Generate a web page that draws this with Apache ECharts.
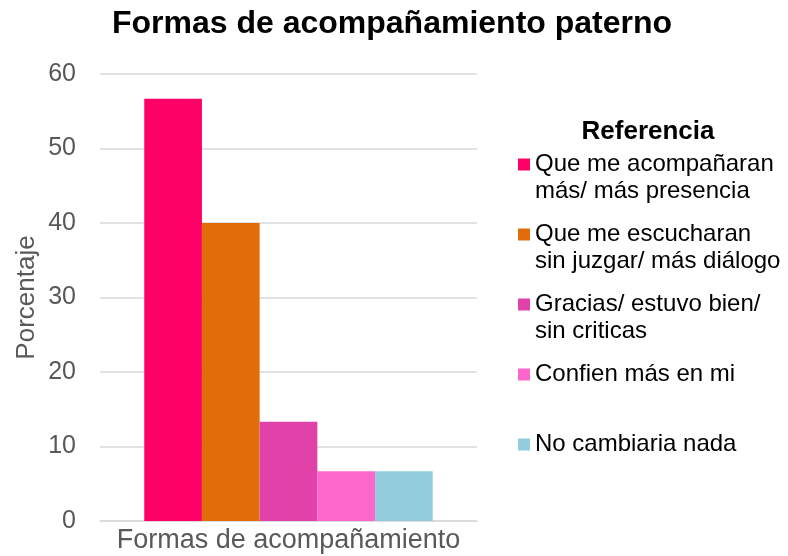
<!DOCTYPE html>
<html><head><meta charset="utf-8">
<script src="https://cdn.jsdelivr.net/npm/echarts@6/dist/echarts.min.js"></script>
<style>html,body{margin:0;padding:0;background:#fff}#c{width:788px;height:556px}</style>
</head><body><div id="c"></div>
<script>
const categories = ['Formas de acompañamiento'];
const seriesNames = ['Que me acompañaran\nmás/ más presencia','Que me escucharan\nsin juzgar/ más diálogo','Gracias/ estuvo bien/\nsin criticas','Confien más en mi','No cambiaria nada'];
const seriesValues = [56.67, 40, 13.33, 6.67, 6.67];
const colors = ['#FF0066','#E36C0A','#E042A9','#FF66CC','#93CDDD'];
const yTicks = [0, 10, 20, 30, 40, 50, 60];

const font = 'Arial, "Liberation Sans", sans-serif';
const chart = echarts.init(document.getElementById('c'));
chart.setOption({
  animation: false,
  title: [
    {text: 'Formas de acompañamiento paterno', left: 387, top: 3, textAlign: 'center',
     textStyle: {fontFamily: font, fontSize: 32, fontWeight: 'bold', color: '#000'}},
    {text: 'Referencia', left: 643, top: 114, textAlign: 'center',
     textStyle: {fontFamily: font, fontSize: 26, fontWeight: 'bold', color: '#000'}}
  ],
  grid: {left: 100, right: 311, top: 74, bottom: 35, containLabel: false},
  legend: {
    orient: 'vertical', left: 518, top: 124, padding: 0,
    itemWidth: 12, itemHeight: 12, itemGap: -11,
    icon: 'rect',
    data: seriesNames,
    formatter: function (n) { return ' \n' + n + (n.indexOf('\n') < 0 ? '\n ' : ''); },
    textStyle: {fontFamily: font, fontSize: 24, color: '#000', lineHeight: 27},
    selectedMode: false
  },
  xAxis: {
    type: 'category', data: categories,
    axisLine: {lineStyle: {color: '#d9d9d9', width: 1.5}},
    axisTick: {show: false},
    axisLabel: {fontFamily: font, fontSize: 27, color: '#595959', margin: 6}
  },
  yAxis: {
    type: 'value', min: yTicks[0], max: yTicks[yTicks.length-1], interval: 10,
    name: 'Porcentaje', nameLocation: 'middle', nameGap: 60,
    nameTextStyle: {fontFamily: font, fontSize: 26, color: '#595959'},
    axisLine: {show: false}, axisTick: {show: false},
    axisLabel: {fontFamily: font, fontSize: 25, color: '#595959', margin: 24},
    splitLine: {lineStyle: {color: '#d9d9d9', width: 1.5}}
  },
  series: seriesNames.map((n, i) => ({
    name: n, type: 'bar', data: [seriesValues[i]],
    itemStyle: {color: colors[i]},
    barWidth: 57.7, barGap: '0%'
  }))
});
</script></body></html>
